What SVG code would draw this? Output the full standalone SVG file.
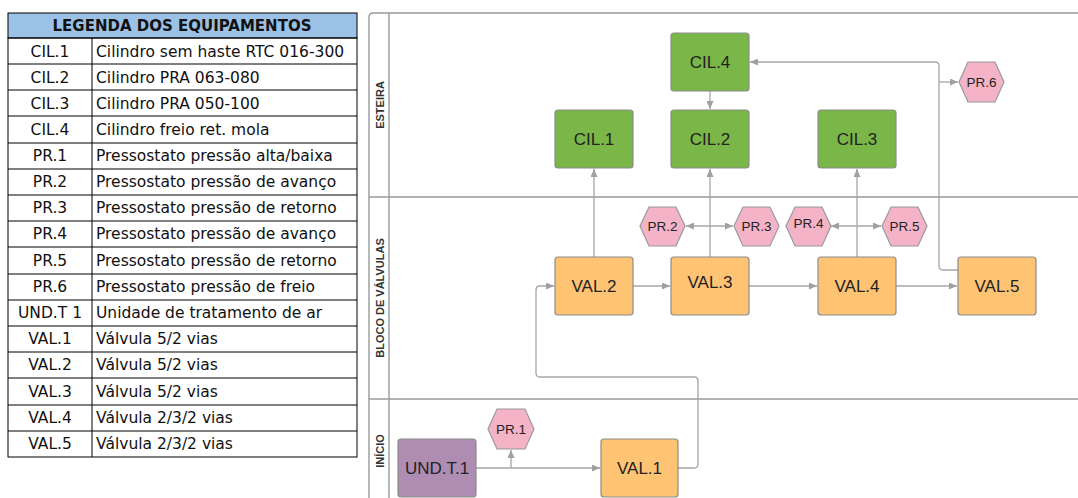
<svg xmlns="http://www.w3.org/2000/svg" width="1078" height="498" viewBox="0 0 1078 498">
<style>
.tb{fill:none;stroke:#000;stroke-width:1}
.tt{font-family:"DejaVu Sans",sans-serif;font-size:15.5px;fill:#111}
.th{font-family:"DejaVu Sans",sans-serif;font-size:15px;font-weight:bold;fill:#111}
.lane{fill:none;stroke:#9a9a9a;stroke-width:1.4}
.ll{font-family:"Liberation Sans",Arial,sans-serif;font-size:11px;font-weight:bold;fill:#333}
.box{stroke:#8c8c8c;stroke-width:1.2}
.g{fill:#7ab648}
.o{fill:#ffc374}
.p{fill:#af8cb2}
.hx{fill:#f4b3c7;stroke:#9a9a9a;stroke-width:1.2}
.nt{font-family:"Liberation Sans",Arial,sans-serif;font-size:17px;fill:#222;text-anchor:middle}
.ht{font-family:"Liberation Sans",Arial,sans-serif;font-size:13.5px;fill:#222;text-anchor:middle}
.c{fill:none;stroke:#a6a6a6;stroke-width:1.3}
</style>
<defs>
<marker id="ar" markerUnits="userSpaceOnUse" markerWidth="8" markerHeight="7" refX="8" refY="3.5" orient="auto-start-reverse">
<path d="M0,0 L8,3.5 L0,7 z" fill="#a0a0a0"/>
</marker>
</defs>
<rect width="1078" height="498" fill="#fff"/>

<g id="legend">
<rect x="8" y="13" width="349" height="25" fill="#9bc2e6" stroke="#000"/>
<text class="th" x="182" y="31" text-anchor="middle">LEGENDA DOS EQUIPAMENTOS</text>
<rect class="tb" x="8" y="38" width="349" height="419"/>
<path class="tb" d="M92,38V457 M8,64H357 M8,90H357 M8,116H357 M8,143H357 M8,169H357 M8,195H357 M8,221H357 M8,247H357 M8,274H357 M8,300H357 M8,326H357 M8,352H357 M8,378H357 M8,405H357 M8,431H357"/>
<g class="tt" text-anchor="middle">
<text x="50" y="56.5">CIL.1</text>
<text x="50" y="82.5">CIL.2</text>
<text x="50" y="108.5">CIL.3</text>
<text x="50" y="134.5">CIL.4</text>
<text x="50" y="161">PR.1</text>
<text x="50" y="187">PR.2</text>
<text x="50" y="213">PR.3</text>
<text x="50" y="239">PR.4</text>
<text x="50" y="265.5">PR.5</text>
<text x="50" y="292">PR.6</text>
<text x="50" y="318">UND.T 1</text>
<text x="50" y="344">VAL.1</text>
<text x="50" y="370">VAL.2</text>
<text x="50" y="396.5">VAL.3</text>
<text x="50" y="423">VAL.4</text>
<text x="50" y="449">VAL.5</text>
</g>
<g class="tt">
<text x="96" y="56.5">Cilindro sem haste RTC 016-300</text>
<text x="96" y="82.5">Cilindro PRA 063-080</text>
<text x="96" y="108.5">Cilindro PRA 050-100</text>
<text x="96" y="134.5">Cilindro freio ret. mola</text>
<text x="96" y="161">Pressostato pressão alta/baixa</text>
<text x="96" y="187">Pressostato pressão de avanço</text>
<text x="96" y="213">Pressostato pressão de retorno</text>
<text x="96" y="239">Pressostato pressão de avanço</text>
<text x="96" y="265.5">Pressostato pressão de retorno</text>
<text x="96" y="292">Pressostato pressão de freio</text>
<text x="96" y="318">Unidade de tratamento de ar</text>
<text x="96" y="344">Válvula 5/2 vias</text>
<text x="96" y="370">Válvula 5/2 vias</text>
<text x="96" y="396.5">Válvula 5/2 vias</text>
<text x="96" y="423">Válvula 2/3/2 vias</text>
<text x="96" y="449">Válvula 2/3/2 vias</text>
</g>
</g>

<g id="swimlanes">
<path class="lane" d="M1080,13 H373 Q369,13 369,17 V500"/>
<path class="lane" d="M389,13 V500 M369,197 H1080 M369,399 H1080"/>
<text class="ll" transform="translate(383.5,105) rotate(-90)" text-anchor="middle">ESTEIRA</text>
<text class="ll" transform="translate(383.5,298) rotate(-90)" text-anchor="middle">BLOCO DE VÁLVULAS</text>
<text class="ll" transform="translate(383.5,451) rotate(-90)" text-anchor="middle">INÍCIO</text>
</g>

<g id="connectors">
<path class="c" d="M476,468 H600" marker-end="url(#ar)"/>
<path class="c" d="M511,468 V450" marker-end="url(#ar)"/>
<path class="c" d="M678,468 H694 Q698,468 698,464 V381 Q698,377 694,377 H540 Q536,377 536,373 V290 Q536,286 540,286 H554" marker-end="url(#ar)"/>
<path class="c" d="M633,286 H670" marker-end="url(#ar)"/>
<path class="c" d="M749,286 H817" marker-end="url(#ar)"/>
<path class="c" d="M896,286 H957" marker-end="url(#ar)"/>
<path class="c" d="M594,257 V169" marker-end="url(#ar)"/>
<path class="c" d="M710,257 V169" marker-end="url(#ar)"/>
<path class="c" d="M686,226 H733" marker-start="url(#ar)" marker-end="url(#ar)"/>
<path class="c" d="M857,257 V169" marker-end="url(#ar)"/>
<path class="c" d="M831,226 H881" marker-start="url(#ar)" marker-end="url(#ar)"/>
<path class="c" d="M710,91 V109" marker-end="url(#ar)"/>
<path class="c" d="M958,270 H943 Q939,270 939,266 V66 Q939,62 935,62 H750" marker-end="url(#ar)"/>
<path class="c" d="M939,82 H958" marker-end="url(#ar)"/>
</g>

<g id="CIL4"><rect class="box g" x="671" y="33" width="78" height="58" rx="3"/><text class="nt" x="710" y="68">CIL.4</text></g>
<g id="CIL1"><rect class="box g" x="555" y="110" width="78" height="58" rx="3"/><text class="nt" x="594" y="145">CIL.1</text></g>
<g id="CIL2"><rect class="box g" x="671" y="110" width="78" height="58" rx="3"/><text class="nt" x="710" y="145">CIL.2</text></g>
<g id="CIL3"><rect class="box g" x="818" y="110" width="78" height="58" rx="3"/><text class="nt" x="857" y="145">CIL.3</text></g>
<g id="PR6"><path class="hx" d="M959,82 L968,62 H995 L1004,82 L995,102 H968 Z"/><text class="ht" x="981.5" y="87">PR.6</text></g>
<g id="PR2"><path class="hx" d="M640,226 L649,207 H676 L685,226 L676,246 H649 Z"/><text class="ht" x="662.5" y="231">PR.2</text></g>
<g id="PR3"><path class="hx" d="M734,226 L743,207 H770 L779,226 L770,246 H743 Z"/><text class="ht" x="756.5" y="231">PR.3</text></g>
<g id="PR4"><path class="hx" d="M786,226 L795,207 H822 L831,226 L822,246 H795 Z"/><text class="ht" x="808.5" y="228">PR.4</text></g>
<g id="PR5"><path class="hx" d="M882,226 L891,207 H918 L927,226 L918,246 H891 Z"/><text class="ht" x="904.5" y="231">PR.5</text></g>
<g id="VAL2"><rect class="box o" x="555" y="257" width="78" height="58" rx="3"/><text class="nt" x="594" y="292">VAL.2</text></g>
<g id="VAL3"><rect class="box o" x="671" y="257" width="78" height="58" rx="3"/><text class="nt" x="710" y="288">VAL.3</text></g>
<g id="VAL4"><rect class="box o" x="818" y="257" width="78" height="58" rx="3"/><text class="nt" x="857" y="292">VAL.4</text></g>
<g id="VAL5"><rect class="box o" x="958" y="257" width="78" height="58" rx="3"/><text class="nt" x="997" y="292">VAL.5</text></g>
<g id="PR1"><path class="hx" d="M488,429 L497,409 H525 L534,429 L525,449 H497 Z"/><text class="ht" x="511" y="434">PR.1</text></g>
<g id="UNDT1"><rect class="box p" x="398" y="439" width="78" height="58" rx="3"/><text class="nt" x="437" y="474">UND.T.1</text></g>
<g id="VAL1"><rect class="box o" x="601" y="439" width="77" height="58" rx="3"/><text class="nt" x="639.5" y="474">VAL.1</text></g>
</svg>
